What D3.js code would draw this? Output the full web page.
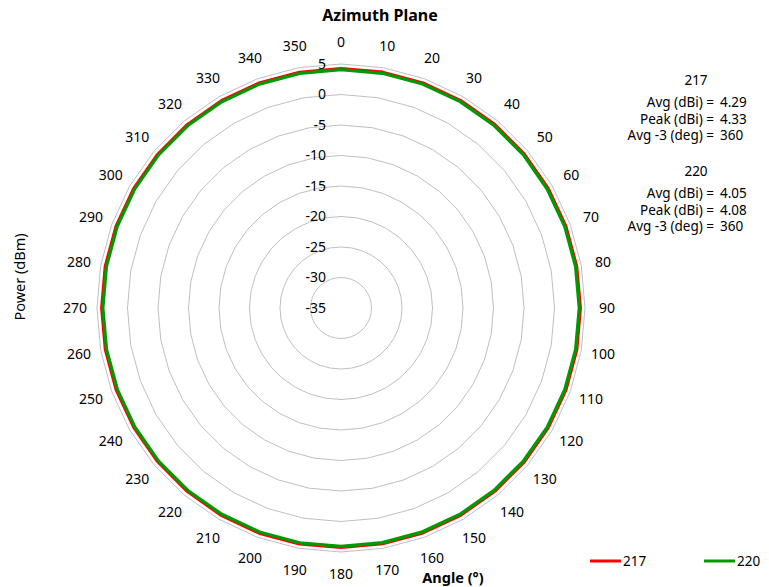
<!DOCTYPE html>
<meta charset="utf-8">
<head>
    <title>Azimuth Plane</title>
</head>
<style>
  body { margin: 0; background: #fff; }
  text { font-family: "Noto Sans", "Open Sans", sans-serif; fill: #000; }
</style>
<script src="https://d3js.org/d3.v7.min.js"></script>

<div id="my_dataviz"></div>

<script>

// angles (deg), one category every 10 degrees
var angles = [0, 10, 20, 30, 40, 50, 60, 70, 80, 90, 100, 110, 120, 130, 140, 150, 160, 170,
              180, 190, 200, 210, 220, 230, 240, 250, 260, 270, 280, 290, 300, 310, 320, 330, 340, 350];

// power readings (dBm) for the two series
var s217 = [4.30, 4.31, 4.32, 4.31, 4.30, 4.28, 4.27, 4.28, 4.29, 4.30, 4.31, 4.30, 4.29, 4.28, 4.27, 4.28, 4.29, 4.30,
            4.31, 4.32, 4.33, 4.31, 4.29, 4.27, 4.26, 4.27, 4.28, 4.29, 4.30, 4.29, 4.28, 4.27, 4.28, 4.29, 4.30, 4.30];
var s220 = [4.06, 4.07, 4.08, 4.07, 4.05, 4.04, 4.03, 4.04, 4.05, 4.06, 4.06, 4.05, 4.04, 4.03, 4.03, 4.04, 4.05, 4.06,
            4.07, 4.08, 4.07, 4.06, 4.05, 4.04, 4.03, 4.02, 4.03, 4.04, 4.05, 4.05, 4.04, 4.04, 4.05, 4.06, 4.06, 4.06];

var ringTicks = [-35, -30, -25, -20, -15, -10, -5, 0, 5];
var seriesNames = ["217", "220"];
var seriesColors = ["#ff0000", "#009900"];

var stats217 = [["Avg (dBi) =", "4.29"], ["Peak (dBi) =", "4.33"], ["Avg -3 (deg) =", "360"]];
var stats220 = [["Avg (dBi) =", "4.05"], ["Peak (dBi) =", "4.08"], ["Avg -3 (deg) =", "360"]];

var width = 769,
    height = 587,
    cx = 341,
    cy = 308;

var svg = d3.select("#my_dataviz")
  .append("svg")
    .attr("width", width)
    .attr("height", height);

// radial scale: axis minimum sits in the centre
var rScale = d3.scaleLinear()
    .domain([-35, 5])
    .range([0, 244]);

var aScale = d3.scaleLinear()
    .domain([0, 360])
    .range([0, 2 * Math.PI]);

var g = svg.append("g")
    .attr("transform", "translate(" + cx + "," + cy + ")");

// polygon grid rings
var ringLine = d3.lineRadial()
    .angle(function(d) { return aScale(d); })
    .curve(d3.curveLinearClosed);

ringTicks.slice(1).forEach(function(t) {
  g.append("path")
    .attr("d", ringLine.radius(rScale(t))(angles))
    .attr("fill", "none")
    .attr("stroke", "#bfbfbf")
    .attr("stroke-width", 1);
});

// series lines
var dataLine = d3.lineRadial()
    .angle(function(d) { return aScale(d.a); })
    .radius(function(d) { return rScale(d.v); })
    .curve(d3.curveLinearClosed);

[s217, s220].forEach(function(s, i) {
  var pts = angles.map(function(a, j) { return {a: a, v: s[j]}; });
  g.append("path")
    .attr("d", dataLine(pts))
    .attr("fill", "none")
    .attr("stroke", seriesColors[i])
    .attr("stroke-width", i == 0 ? 2.5 : 3.25)
    .attr("stroke-linejoin", "round");
});

// radial tick labels
g.selectAll(".rtick")
  .data(ringTicks)
  .enter().append("text")
    .attr("x", -15)
    .attr("y", function(d) { return -rScale(d); })
    .attr("dy", "0.35em")
    .attr("text-anchor", "end")
    .style("font-size", "14px")
    .text(function(d) { return d; });

// angle labels
g.selectAll(".atick")
  .data(angles)
  .enter().append("text")
    .attr("x", function(d) { return 266 * Math.sin(aScale(d)); })
    .attr("y", function(d) { return -266 * Math.cos(aScale(d)); })
    .attr("dy", "0.35em")
    .attr("text-anchor", "middle")
    .style("font-size", "14px")
    .text(function(d) { return d; });

// title and axis titles
svg.append("text")
    .attr("x", 380)
    .attr("y", 21)
    .attr("text-anchor", "middle")
    .style("font-size", "16px")
    .style("font-weight", "bold")
    .text("Azimuth Plane");

svg.append("text")
    .attr("transform", "translate(25,277) rotate(-90)")
    .attr("text-anchor", "middle")
    .style("font-size", "14.5px")
    .text("Power (dBm)");

svg.append("text")
    .attr("x", 453)
    .attr("y", 583)
    .attr("text-anchor", "middle")
    .style("font-size", "14.5px")
    .style("font-weight", "bold")
    .text("Angle (°)");

// stats block on the right
function statBlock(name, rows, y0) {
  svg.append("text")
    .attr("x", 696)
    .attr("y", y0)
    .attr("text-anchor", "middle")
    .style("font-size", "13.5px")
    .text(name);
  rows.forEach(function(r, i) {
    svg.append("text")
      .attr("x", 714)
      .attr("y", y0 + 22 + i * 16.5)
      .attr("text-anchor", "end")
      .style("font-size", "13.5px")
      .text(r[0]);
    svg.append("text")
      .attr("x", 720)
      .attr("y", y0 + 22 + i * 16.5)
      .style("font-size", "13.5px")
      .text(r[1]);
  });
}
statBlock(seriesNames[0], stats217, 85);
statBlock(seriesNames[1], stats220, 176);

// legend
var legX = [590, 704];
seriesNames.forEach(function(n, i) {
  svg.append("line")
    .attr("x1", legX[i]).attr("x2", legX[i] + 31)
    .attr("y1", 561).attr("y2", 561)
    .attr("stroke", seriesColors[i])
    .attr("stroke-width", 3);
  svg.append("text")
    .attr("x", legX[i] + 33)
    .attr("y", 566)
    .style("font-size", "13.5px")
    .text(n);
});

</script>
